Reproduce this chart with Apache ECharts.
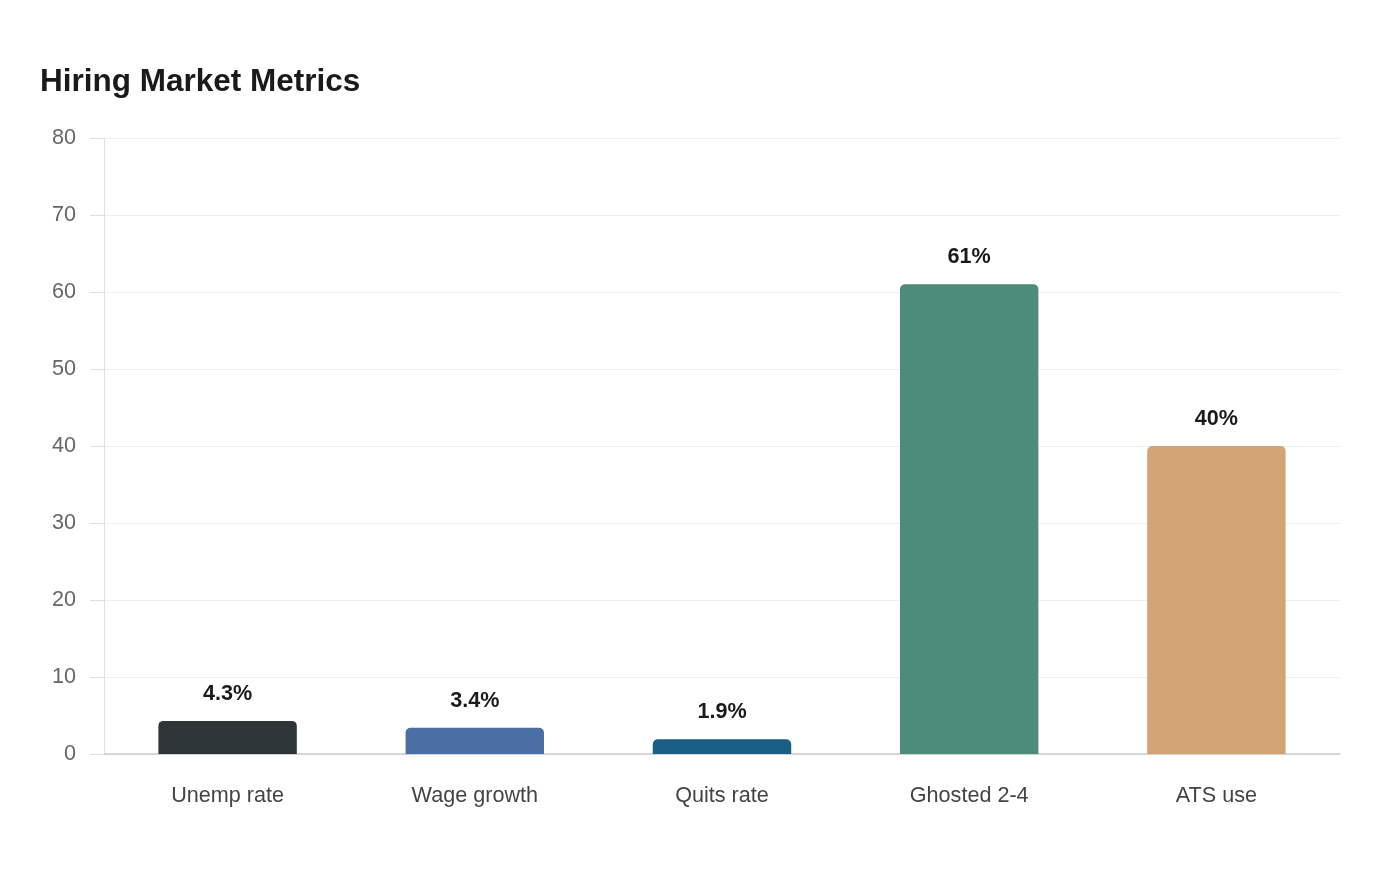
<!DOCTYPE html>
<html>
<head>
<meta charset="utf-8">
<script src="https://cdn.jsdelivr.net/npm/echarts@6/dist/echarts.min.js"></script>
<style>
  html, body { margin: 0; padding: 0; background: #fff; }
  #chart { width: 1400px; height: 880px; }
</style>
</head>
<body>
<div id="chart"></div>
<script>
const categories = ["Unemp rate", "Wage growth", "Quits rate", "Ghosted 2-4", "ATS use"];
const values = [4.3, 3.4, 1.9, 61, 40];
const barColors = ["#2d3538", "#4a6fa5", "#1a5e85", "#4e8c7a", "#d4a574"];

const chart = echarts.init(document.getElementById("chart"));
chart.setOption({
  animation: false,
  textStyle: { fontFamily: "'Liberation Sans', Arial, sans-serif" },
  title: {
    text: "Hiring Market Metrics",
    left: 35,
    top: 61,
    textStyle: { fontSize: 31.5, fontWeight: "bold", color: "#1a1a1a" }
  },
  grid: { left: 104, right: 60, top: 138, bottom: 126 },
  xAxis: {
    type: "category",
    data: categories,
    axisLine: { lineStyle: { color: "#cccccc", width: 1.5 } },
    axisTick: { show: false },
    axisLabel: { fontSize: 21.6, color: "#444", margin: 31 }
  },
  yAxis: {
    type: "value",
    min: 0,
    max: 80,
    interval: 10,
    axisLine: { show: true, lineStyle: { color: "#e0e0e0" } },
    axisTick: { show: true, length: 14, lineStyle: { color: "#e0e0e0" } },
    axisLabel: { fontSize: 21.6, color: "#666", margin: 28, padding: [3, 0, 0, 0] },
    splitLine: { lineStyle: { color: "#eeeeee" } }
  },
  series: [{
    type: "bar",
    barWidth: "56%",
    data: values.map((v, i) => ({ value: v, itemStyle: { color: barColors[i] } })),
    itemStyle: { borderRadius: [5, 5, 0, 0] },
    label: {
      show: true,
      position: "top",
      distance: 16,
      formatter: "{c}%",
      fontSize: 21.6,
      fontWeight: "bold",
      color: "#1a1a1a"
    }
  }]
});
</script>
</body>
</html>
